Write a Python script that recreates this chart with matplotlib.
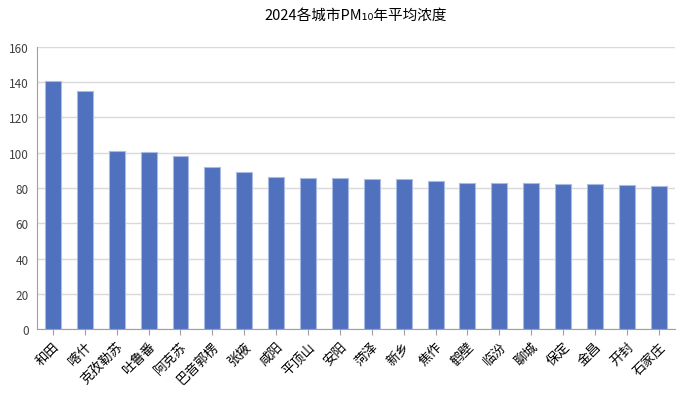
import numpy as np
import matplotlib
matplotlib.use("Agg")
from matplotlib import pyplot as plt

plt.rcParams["font.family"] = ["Noto Sans CJK SC", "DejaVu Sans"]

cities = ["和田", "喀什", "克孜勒苏", "吐鲁番", "阿克苏", "巴音郭楞", "张掖", "咸阳", "平顶山", "安阳",
          "菏泽", "新乡", "焦作", "鹤壁", "临汾", "聊城", "保定", "金昌", "开封", "石家庄"]
pm10 = [140.6, 134.9, 101.1, 100.4, 98.1, 92.0, 89.0, 86.3, 85.9, 85.9,
        85.1, 85.1, 83.9, 82.9, 82.6, 82.6, 82.4, 82.3, 81.6, 81.4]
yticks = [0, 20, 40, 60, 80, 100, 120, 140, 160]

fig, ax = plt.subplots(figsize=(6.85, 4.06), dpi=100)
fig.subplots_adjust(left=0.054, right=0.985, bottom=0.187, top=0.882)

x = np.arange(len(cities))
ax.bar(x, pm10, width=0.5, color="#4f71be", edgecolor="#a9bbe3", linewidth=0.8, zorder=3)

ax.set_xlim(-0.5, len(cities) - 0.5)
ax.set_ylim(0, 160)
ax.set_yticks(yticks)
ax.yaxis.grid(True, color="#d9d9d9", linewidth=1, zorder=0)
ax.tick_params(axis="y", length=0, labelsize=8.5, pad=6, colors="#404040")
ax.tick_params(axis="x", length=4, color="#a0a0a0", labelsize=9.5)
ax.set_xticks(x)
ax.set_xticklabels(cities, rotation=45, ha="right", rotation_mode="anchor")

for side in ["top", "right"]:
    ax.spines[side].set_visible(False)
for side in ["left", "bottom"]:
    ax.spines[side].set_color("#a0a0a0")

ax.set_title("2024各城市PM₁₀年平均浓度", fontsize=10.5, pad=20)

plt.savefig("out.png", dpi=100)
